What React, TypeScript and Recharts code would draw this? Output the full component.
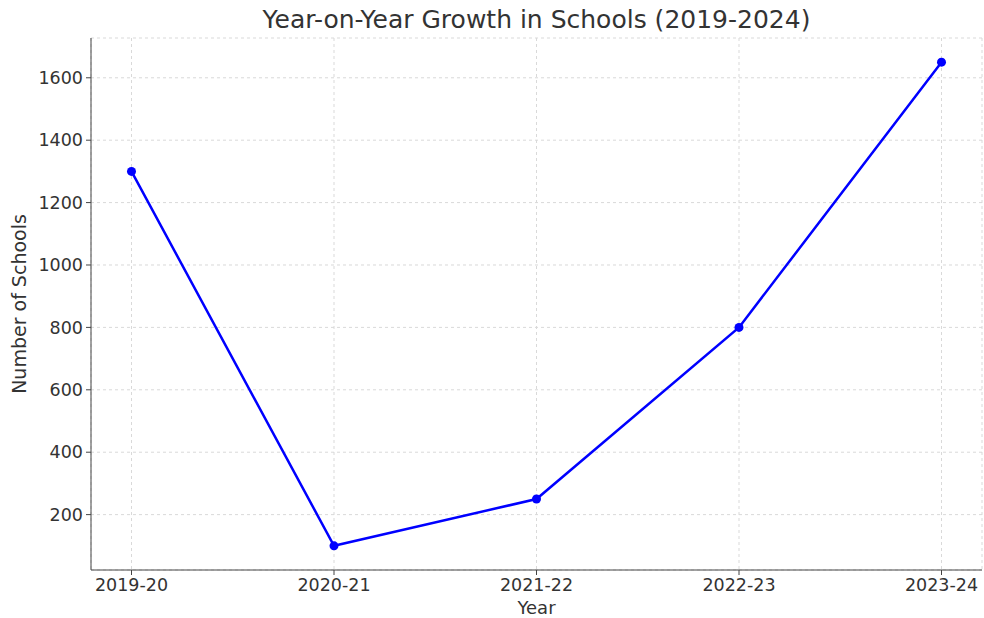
import React from 'react';
import { LineChart, Line, XAxis, YAxis, CartesianGrid } from 'recharts';

const YEARS = ['2019-20', '2020-21', '2021-22', '2022-23', '2023-24'];
const SCHOOLS = [1300, 100, 250, 800, 1650];
const Y_TICKS = [200, 400, 600, 800, 1000, 1200, 1400, 1600];

const data = YEARS.map((year, i) => ({ year, schools: SCHOOLS[i] }));

const FONT = 'DejaVu Sans, sans-serif';
const TEXT = '#333';

const App: React.FC = () => {
  return (
    <div style={{ position: 'absolute', left: 0, top: 0, width: 984, height: 618, background: '#fff', fontFamily: FONT }}>
      <div
        style={{
          position: 'absolute',
          left: 91,
          width: 891,
          top: 4,
          textAlign: 'center',
          fontSize: 25,
          color: TEXT,
          lineHeight: '32px',
        }}
      >
        Year-on-Year Growth in Schools (2019-2024)
      </div>
      <LineChart
        width={984}
        height={618}
        data={data}
        margin={{ top: 38, right: 2, bottom: 0, left: 31 }}
      >
        <CartesianGrid stroke="#d9d9d9" strokeDasharray="3 3" />
        <XAxis
          dataKey="year"
          padding={{ left: 40.5, right: 40.5 }}
          height={48}
          tickSize={5}
          tickMargin={4}
          stroke="#444"
          tick={{ fill: TEXT, fontSize: 17.5, fontFamily: FONT }}
          label={{ value: 'Year', position: 'insideBottom', offset: 4, fill: TEXT, fontSize: 18, fontFamily: FONT }}
        />
        <YAxis
          type="number"
          domain={[22.5, 1727.5]}
          ticks={Y_TICKS}
          allowDataOverflow
          width={60}
          tickSize={5}
          tickMargin={3}
          stroke="#444"
          axisLine={{ stroke: '#444' }}
          tick={{ fill: TEXT, fontSize: 17.5, fontFamily: FONT }}
          label={{ value: 'Number of Schools', angle: -90, position: 'insideLeft', offset: -12, style: { textAnchor: 'middle' }, fill: TEXT, fontSize: 19, fontFamily: FONT }}
        />
        <Line
          type="linear"
          dataKey="schools"
          stroke="#0000ff"
          strokeWidth={2.5}
          dot={{ r: 4.5, fill: '#0000ff', stroke: '#0000ff', strokeWidth: 0 }}
          isAnimationActive={false}
        />
      </LineChart>
    </div>
  );
};

export default App;
